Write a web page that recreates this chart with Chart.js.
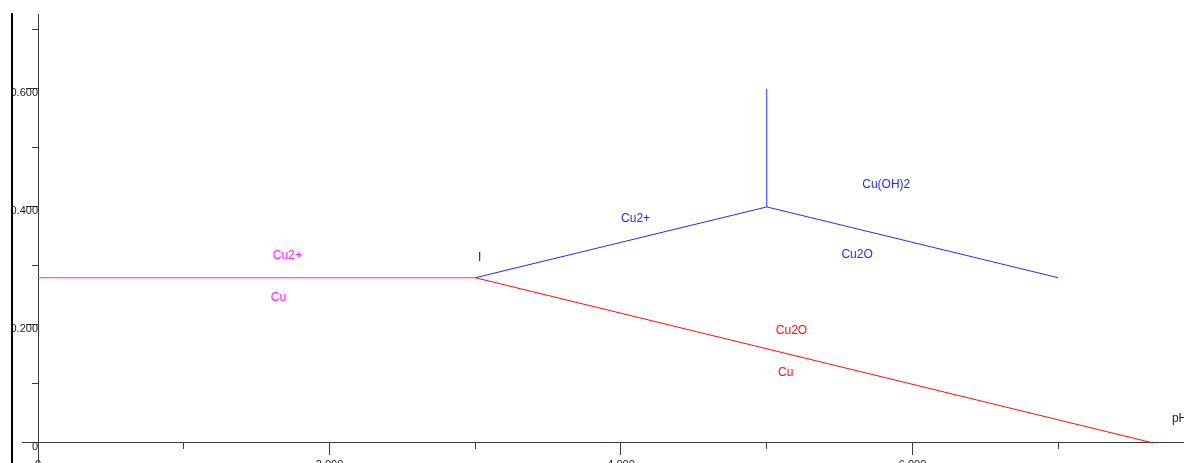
<!DOCTYPE html>
<html>
<head>
<meta charset="utf-8">
<title>Cu Pourbaix diagram</title>
<script src="https://cdn.jsdelivr.net/npm/chart.js@4/dist/chart.umd.min.js"></script>
<style>
  html, body { margin: 0; padding: 0; background: #fff; }
  canvas { display: block; }
</style>
</head>
<body>
<canvas id="chart" width="1184" height="463"></canvas>
<script>
// boundary lines (pH, E)
const cuLineX = [0, 3];
const cuLineY = [0.28, 0.28];
const cu2pCu2oX = [3, 5, 7];
const cu2pCu2oY = [0.28, 0.40, 0.28];
const cuOhX = [5, 5];
const cuOhY = [0.40, 0.60];
const cu2oCuX = [3, 7.65];
const cu2oCuY = [0.28, 0];

// axis ticks
const xMajor = [0, 2, 4, 6];
const xTickLabels = ['0', '2.000', '4.000', '6.000'];
const xMinor = [1, 3, 5, 7];
const yMajor = [0, 0.2, 0.4, 0.6];
const yTickLabels = ['0', '0.200', '0.400', '0.600'];
const yMinor = [0.1, 0.3, 0.5, 0.7];

// region names
const regionText = ['Cu2+', 'Cu', 'Cu2+', 'Cu(OH)2', 'Cu2O', 'Cu2O', 'Cu', 'I'];
const regionPh = [1.71, 1.65, 4.10, 5.82, 5.62, 5.17, 5.13, 3.03];
const regionE = [0.317, 0.246, 0.380, 0.437, 0.319, 0.190, 0.119, 0.314];

const MAGENTA = '#ff22ff';
const BLUE = '#2a2aff';
const RED = '#ff1010';
const regionColor = [MAGENTA, MAGENTA, BLUE, BLUE, BLUE, RED, RED, '#222'];

const AXIS = '#3a3a3a';
const tickFont = { family: 'Liberation Sans', size: 11 };

function pts(xs, ys) {
    return xs.map((x, i) => ({ x: x, y: ys[i] }));
}

function line(xs, ys, color) {
    return {
        data: pts(xs, ys),
        showLine: true,
        borderColor: color,
        borderWidth: 1,
        pointRadius: 0,
        fill: false,
        tension: 0
    };
}

// no extra room for the end labels, the plot fills the canvas
function noPad(s) {
    s.paddingTop = 0;
    s.paddingBottom = 0;
    s.paddingLeft = 0;
    s.paddingRight = 0;
}

const xMin = -0.11, xMax = 7.863;
const yMin = -0.034, yMax = 0.727;

const labelPlugin = {
    id: 'regionLabels',
    afterDatasetsDraw(chart) {
        const ctx = chart.ctx;
        const xs = chart.scales.x, ys = chart.scales.y;
        ctx.save();
        ctx.font = '12px "Liberation Sans"';
        ctx.textAlign = 'center';
        ctx.textBaseline = 'middle';
        regionText.forEach((t, i) => {
            ctx.fillStyle = regionColor[i];
            ctx.fillText(t, xs.getPixelForValue(regionPh[i]), ys.getPixelForValue(regionE[i]));
        });
        // axis name at the right end
        ctx.fillStyle = '#222';
        ctx.textAlign = 'left';
        ctx.fillText('pH', xs.getPixelForValue(7.78), ys.getPixelForValue(0.041));
        ctx.restore();
    }
};

const ctx = document.getElementById('chart').getContext('2d');
const chart = new Chart(ctx, {
    type: 'scatter',
    data: {
        datasets: [
            line(cuLineX, cuLineY, MAGENTA),
            line(cu2pCu2oX, cu2pCu2oY, BLUE),
            line(cuOhX, cuOhY, BLUE),
            line(cu2oCuX, cu2oCuY, RED)
        ]
    },
    options: {
        responsive: false,
        animation: false,
        layout: { padding: { left: 22, top: 14, right: 0, bottom: 0 } },
        plugins: { legend: { display: false }, tooltip: { enabled: false } },
        scales: {
            x: {
                type: 'linear', min: xMin, max: xMax, position: { y: 0 },
                afterBuildTicks: s => { s.ticks = xMajor.map(v => ({ value: v })); },
                afterFit: noPad,
                ticks: { callback: (v, i) => xTickLabels[i], font: tickFont, color: '#222', padding: 3, maxRotation: 0, autoSkip: false },
                grid: { drawOnChartArea: false, tickLength: 12, tickColor: AXIS },
                border: { color: AXIS, width: 1 }
            },
            xMinor: {
                type: 'linear', axis: 'x', min: xMin, max: xMax, position: { y: 0 },
                afterBuildTicks: s => { s.ticks = xMinor.map(v => ({ value: v })); },
                afterFit: noPad,
                ticks: { display: false },
                grid: { drawOnChartArea: false, tickLength: 6, tickColor: AXIS },
                border: { display: false }
            },
            y: {
                type: 'linear', min: yMin, max: yMax, position: { x: 0 },
                afterBuildTicks: s => { s.ticks = yMajor.map(v => ({ value: v })); },
                afterFit: noPad,
                ticks: { callback: (v, i) => yTickLabels[i], font: tickFont, color: '#222', padding: 0, labelOffset: 4 },
                grid: { drawOnChartArea: false, drawTicks: false },
                border: { color: AXIS, width: 1 }
            },
            yMajorTicks: {
                type: 'linear', axis: 'y', min: yMin, max: yMax, position: { x: 0 },
                afterBuildTicks: s => { s.ticks = yMajor.map(v => ({ value: v })); },
                afterFit: noPad,
                ticks: { display: false },
                grid: { drawOnChartArea: false, tickLength: 12, tickColor: AXIS },
                border: { display: false }
            },
            yMinor: {
                type: 'linear', axis: 'y', min: yMin, max: yMax, position: { x: 0 },
                afterBuildTicks: s => { s.ticks = yMinor.map(v => ({ value: v })); },
                afterFit: noPad,
                ticks: { display: false },
                grid: { drawOnChartArea: false, tickLength: 6, tickColor: AXIS },
                border: { display: false }
            },
            yFrame: {
                type: 'linear', axis: 'y', min: yMin, max: yMax, position: { x: -0.182 },
                afterFit: noPad,
                ticks: { display: false },
                grid: { drawOnChartArea: false, drawTicks: false },
                border: { color: '#000', width: 2 }
            }
        }
    },
    plugins: [labelPlugin]
});
</script>
</body>
</html>
